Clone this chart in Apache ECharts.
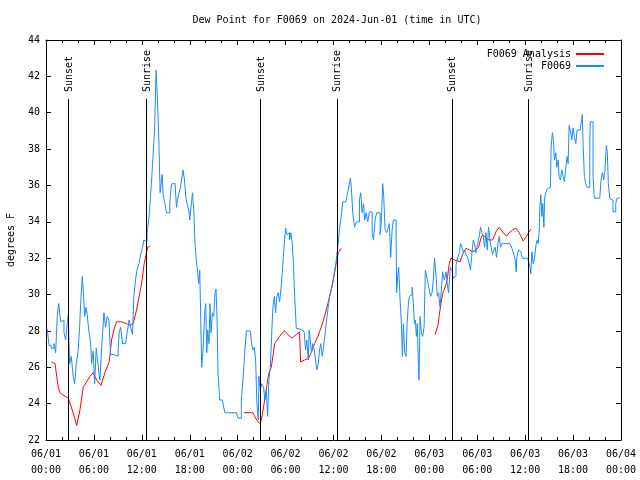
<!DOCTYPE html>
<html>
<head>
<meta charset="utf-8">
<script src="https://cdn.jsdelivr.net/npm/echarts@6/dist/echarts.min.js"></script>
<style>html,body{margin:0;padding:0;background:#fff}#c{width:640px;height:480px}</style>
</head>
<body>
<div id="c"></div>
<script>
// hours since 2024-06-01 00:00 UTC
const xTickLabels = ['06/01\n00:00','06/01\n06:00','06/01\n12:00','06/01\n18:00','06/02\n00:00','06/02\n06:00','06/02\n12:00','06/02\n18:00','06/03\n00:00','06/03\n06:00','06/03\n12:00','06/03\n18:00','06/04\n00:00'];

const sunLabels = ['Sunset','Sunrise','Sunset','Sunrise','Sunset','Sunrise'];
const sunHours  = [2.79, 12.54, 26.79, 36.41, 50.79, 60.41];

const blueHours = [0.16,0.38,0.66,1.0,1.21,1.41,1.59,1.84,2.04,2.25,2.46,2.66,2.79,2.96,3.16,3.41,3.59,3.79,4.0,4.21,4.34,4.54,4.66,4.84,5.0,5.16,5.34,5.59,5.71,5.91,6.09,6.29,6.41,6.62,6.75,6.91,7.09,7.25,7.46,7.66,7.88,8.09,8.5,9.0,9.16,9.34,9.59,9.96,10.16,10.41,10.66,10.84,11.0,11.21,11.41,11.66,11.84,12.09,12.25,12.46,
12.66,12.91,13.09,13.25,13.41,13.59,13.71,13.79,13.88,14.04,14.16,14.29,14.41,14.54,14.66,14.88,15.09,15.34,15.5,15.66,15.79,16.16,16.34,16.46,16.66,16.84,17.0,17.16,17.34,17.5,17.66,17.88,18.0,18.16,18.34,18.5,18.66,18.84,19.0,19.13,19.25,19.38,19.5,19.66,19.88,20.0,20.13,20.25,20.41,20.54,20.66,20.84,21.0,21.16,21.29,21.41,21.54,21.75,22.09,22.25,22.41,23.84,24.04,
24.29,24.46,24.66,24.88,25.09,25.59,25.75,25.91,26.09,26.25,26.41,26.59,26.66,26.84,27.0,27.25,27.41,27.59,27.75,27.91,28.09,28.25,28.41,28.59,28.75,28.91,29.09,29.25,29.41,29.59,29.75,29.88,30.0,30.16,30.34,30.5,30.66,30.84,31.0,31.16,31.34,31.54,32.16,32.34,32.5,32.66,32.84,32.96,33.09,33.25,33.41,33.59,33.75,33.91,34.09,34.25,34.41,34.59,34.75,34.91,35.09,35.29,35.5,35.71,35.91,36.13,36.34,36.54,36.75,36.96,37.16,37.54,37.71,37.88,38.0,38.13,38.25,38.41,38.63,38.84,39.04,39.25,39.41,39.59,39.75,39.91,40.09,40.29,40.5,40.71,40.84,41.0,41.21,41.41,41.66,41.84,42.0,42.16,42.29,42.46,42.66,42.84,43.0,43.16,43.34,43.5,43.66,43.84,43.91,44.04,44.16,44.34,44.5,44.63,44.75,44.91,45.09,45.21,45.38,45.5,45.66,45.84,46.0,46.13,46.25,46.38,46.5,46.63,46.71,46.84,47.0,47.16,47.34,47.5,47.66,47.84,48.0,48.16,48.34,48.5,48.66,48.84,49.0,49.16,49.34,49.5,49.66,49.88,50.09,50.29,50.41,50.63,50.84,51.0,51.16,51.34,51.54,51.75,51.91,52.09,52.25,52.41,52.59,52.79,53.0,53.16,53.34,53.5,53.66,53.84,54.04,54.25,54.41,54.59,54.75,54.91,55.09,55.25,55.41,55.59,55.75,55.91,56.09,56.25,56.41,56.59,56.75,56.91,57.09,57.79,58.09,58.34,58.59,58.75,58.88,58.96,59.16,59.34,59.5,59.66,60.29,60.5,60.63,60.71,60.84,61.0,61.16,61.34,61.5,61.63,61.75,61.84,61.96,62.09,62.21,62.34,62.46,62.59,62.75,62.91,63.16,63.25,63.41,63.54,63.66,63.84,63.96,64.13,64.25,64.41,64.59,64.75,64.91,65.09,65.25,65.38,65.5,65.66,65.84,66.0,66.16,66.34,66.5,66.75,66.91,67.09,67.16,67.25,67.41,67.59,67.75,68.0,68.09,68.16,68.41,68.5,68.66,69.34,69.5,69.66,69.84,70.0,70.16,70.29,70.41,70.59,70.84,71.0,71.25,71.34,71.5,71.84];
const blueValues = [28.1,27.2,27.05,27.3,26.8,28.8,29.5,28.5,28.6,27.9,27.5,28.4,28.9,26.2,26.6,25.5,25.1,26.2,26.8,28.2,29.5,31.0,30.3,28.8,29.3,28.9,28.1,27.3,26.2,26.9,25.1,27.05,26.6,25.7,25.3,26.6,27.9,29.0,28.2,28.8,28.6,26.7,26.6,26.6,27.9,28.2,27.3,27.3,27.9,28.6,28.1,27.8,29.9,30.8,31.4,31.7,32.2,32.6,33.0,32.9,
33.4,34.3,35.4,36.5,37.7,39.05,41.1,42.35,41.4,39.8,37.95,35.6,36.1,36.6,35.5,35.0,34.5,34.5,35.0,35.9,36.1,36.1,34.8,35.2,35.6,35.9,36.4,36.85,36.3,35.4,35.0,34.65,34.1,34.8,35.6,34.65,32.8,31.8,31.2,30.6,31.35,28.6,26.0,26.95,29.0,29.5,26.8,28.05,27.3,29.5,27.9,29.0,28.8,30.1,30.3,28.8,25.7,24.2,24.2,23.8,23.5,23.5,23.2,
23.2,24.2,25.3,26.8,28.0,28.0,27.3,26.95,27.1,26.4,24.0,23.1,25.5,24.75,25.1,24.9,24.2,24.75,23.3,25.3,26.0,27.7,29.3,29.9,29.0,29.9,30.1,29.6,30.25,31.2,32.3,33.0,33.65,33.3,33.4,33.0,33.4,32.8,31.5,29.7,28.15,28.05,28.05,27.9,26.95,27.5,26.4,28.05,27.5,26.8,27.3,26.95,26.4,25.85,26.2,26.95,27.3,26.6,27.1,27.7,28.4,29.15,29.9,30.25,30.6,31.2,31.9,32.6,33.6,34.3,35.1,35.05,35.5,35.8,36.2,36.4,35.75,34.5,33.7,34.0,34.0,35.2,35.6,34.5,35.0,34.1,34.5,34.0,34.55,34.55,33.4,33.0,34.1,34.5,34.5,33.3,34.1,36.1,35.4,33.55,33.4,33.65,33.9,32.05,33.55,34.1,34.1,33.0,30.1,31.0,31.5,29.7,28.4,26.6,28.4,26.8,26.6,28.4,29.5,29.9,30.0,30.4,29.5,28.4,28.6,27.7,28.4,26.1,25.3,28.8,27.9,27.7,28.2,31.35,31.0,30.6,30.25,29.9,30.1,30.8,32.0,31.0,29.9,30.1,29.3,30.25,31.25,30.8,31.25,30.4,30.1,31.5,31.35,30.9,31.0,31.6,32.0,32.3,32.8,32.6,32.3,32.45,32.2,32.05,31.7,31.35,32.3,33.0,32.8,32.3,32.8,33.2,33.7,33.4,33.2,32.6,33.4,32.45,33.7,33.0,32.6,32.2,32.45,32.6,32.05,32.8,33.2,32.6,32.8,32.8,32.7,32.55,32.2,31.9,31.25,32.05,32.45,32.35,32.2,32.0,32.05,31.7,31.5,31.15,32.35,31.7,31.9,32.7,33.0,32.8,33.4,34.8,35.5,34.3,35.0,33.7,35.4,35.6,35.8,35.9,35.95,38.1,38.9,38.5,37.4,37.8,37.0,37.4,36.5,36.3,36.85,36.5,36.2,37.0,37.6,37.2,39.3,39.05,38.5,39.15,38.7,38.3,39.05,39.05,39.2,39.6,39.9,38.3,36.5,36.1,35.9,35.9,38.5,39.5,39.5,36.5,35.3,35.3,36.3,36.7,36.3,36.85,38.2,37.8,36.1,35.3,35.2,34.55,34.55,35.0,35.3,35.3];

const redHours1 = [0.71,1.13,1.5,1.75,2.04,2.79,3.0,3.29,3.59,3.84,4.25,4.66,5.09,5.5,5.91,6.34,6.88,7.38,7.91,8.21,8.5,8.84,9.46,10.09,10.5,10.91,11.34,11.75,12.04,12.29,12.59,12.71,13.0];
const redValues1 = [26.3,26.2,25.0,24.6,24.5,24.3,24.2,23.65,23.2,22.8,23.65,24.9,25.2,25.5,25.7,25.3,25.0,25.7,26.3,27.5,28.05,28.5,28.5,28.4,28.3,28.4,29.15,30.1,30.8,31.7,32.3,32.6,32.65];
const redHours2 = [24.75,25.91,26.25,26.54,26.84,27.09,27.38,27.66,27.91,28.21,28.41,28.63,28.84,29.25,29.59,29.91,30.29,30.79,31.34,31.75,31.88,32.38,32.88,33.21,33.63,34.04,34.46,34.88,35.29,35.71,36.04,36.34,36.59,36.88,37.0];
const redValues2 = [23.5,23.5,23.2,23.0,22.9,23.4,24.2,25.0,25.7,26.0,26.6,27.3,27.4,27.7,27.9,28.0,27.8,27.6,27.8,27.95,26.3,26.4,26.5,26.8,27.3,27.7,28.2,28.8,29.5,30.25,31.0,31.7,32.3,32.5,32.5];
const redHours3 = [48.71,48.91,49.09,49.25,49.46,49.66,49.88,50.09,50.29,50.5,50.71,51.13,51.84,52.16,52.59,53.0,53.41,53.84,54.16,54.46,54.66,55.09,55.5,55.91,56.41,56.75,57.16,57.66,58.0,58.41,58.84,59.25,59.75,60.16,60.5,60.75];
const redValues3 = [27.8,27.8,28.3,28.9,29.5,30.05,30.1,30.55,31.0,31.7,32.0,31.9,31.8,32.2,32.55,32.45,32.35,32.45,32.6,33.1,33.3,33.1,33.0,33.0,33.5,33.7,33.45,33.2,33.4,33.55,33.65,33.4,32.95,33.2,33.45,33.6];

const zip = (a, b) => a.map((h, i) => [h, b[i]]);
const FONT = 'DejaVu Sans Mono';
const RED = '#ff0000', BLUE = '#1a8cff';
const SUN_TOP = 40.75;

const chart = echarts.init(document.getElementById('c'), null, {renderer: 'canvas'});

function redSeries(h, v) {
  return {name: 'F0069 Analysis', type: 'line', xAxisIndex: 0, yAxisIndex: 0, data: zip(h, v),
    symbol: 'none', lineStyle: {color: RED, width: 1}, itemStyle: {color: RED}, z: 3, silent: true};
}

const commonTick = {show: true, inside: true, length: 5, lineStyle: {color: '#000'}};
const legendBase = {right: 30, align: 'right', itemWidth: 28, itemHeight: 12, itemGap: 0,
  itemStyle: {opacity: 0}, textStyle: {fontFamily: FONT, fontSize: 10, color: '#000'}};

chart.setOption({
  animation: false,
  backgroundColor: '#fff',
  title: {text: 'Dew Point for F0069 on 2024-Jun-01 (time in UTC)', left: 332, top: 10, textAlign: 'center',
    textStyle: {fontFamily: FONT, fontSize: 10, fontWeight: 'normal', color: '#000'}},
  legend: [
    Object.assign({data: ['F0069 Analysis'], top: 44}, legendBase),
    Object.assign({data: ['F0069'], top: 56}, legendBase)
  ],
  grid: {left: 46, right: 19, top: 40, bottom: 40, containLabel: false, outerBoundsMode: 'none'},
  xAxis: [
    {type: 'value', min: 0, max: 72, interval: 6, position: 'bottom',
      axisLine: {show: true, onZero: false, lineStyle: {color: '#000', width: 1}},
      axisTick: commonTick,
      minorTick: {show: true, splitNumber: 3, length: 3, lineStyle: {color: '#000'}},
      splitLine: {show: false},
      axisLabel: {fontFamily: FONT, fontSize: 10, color: '#000', lineHeight: 16, margin: 6,
        formatter: v => xTickLabels[Math.round(v / 6)]}},
    {type: 'value', min: 0, max: 72, interval: 6, position: 'top',
      axisLine: {show: true, onZero: false, lineStyle: {color: '#000', width: 1}},
      axisTick: commonTick,
      minorTick: {show: true, splitNumber: 3, length: 3, lineStyle: {color: '#000'}},
      splitLine: {show: false}, axisLabel: {show: false}}
  ],
  yAxis: [
    {type: 'value', min: 22, max: 44, interval: 2, position: 'left',
      name: 'degrees F', nameLocation: 'middle', nameRotate: 90, nameGap: 30,
      nameTextStyle: {fontFamily: FONT, fontSize: 10, color: '#000'},
      axisLine: {show: true, onZero: false, lineStyle: {color: '#000', width: 1}},
      axisTick: commonTick, splitLine: {show: false},
      axisLabel: {fontFamily: FONT, fontSize: 10, color: '#000', margin: 6}},
    {type: 'value', min: 22, max: 44, interval: 2, position: 'right',
      axisLine: {show: true, onZero: false, lineStyle: {color: '#000', width: 1}},
      axisTick: commonTick, splitLine: {show: false}, axisLabel: {show: false}}
  ],
  series: [
    redSeries(redHours1, redValues1),
    redSeries(redHours2, redValues2),
    redSeries(redHours3, redValues3),
    {name: 'F0069', type: 'line', step: 'end', data: zip(blueHours, blueValues), symbol: 'none',
      lineStyle: {color: BLUE, width: 1}, itemStyle: {color: BLUE}, z: 4, silent: true},
    {name: 'sun', type: 'custom', coordinateSystem: 'cartesian2d', silent: true, z: 5,
      data: sunHours.map(h => [h, SUN_TOP]),
      renderItem: function (params, api) {
        const h = api.value(0);
        const p0 = api.coord([h, 22]);
        const p1 = api.coord([h, api.value(1)]);
        return {type: 'group', children: [
          {type: 'line', shape: {x1: Math.round(p0[0]) + 0.5, y1: p0[1], x2: Math.round(p1[0]) + 0.5, y2: p1[1]},
            style: {stroke: '#000', lineWidth: 1}},
          {type: 'text', x: p1[0] + 1, y: p1[1] - 7, rotation: Math.PI / 2,
            style: {text: sunLabels[params.dataIndex], fontFamily: FONT, fontSize: 10, fill: '#000',
              align: 'left', verticalAlign: 'middle'}}
        ]};
      }}
  ]
});
</script>
</body>
</html>
